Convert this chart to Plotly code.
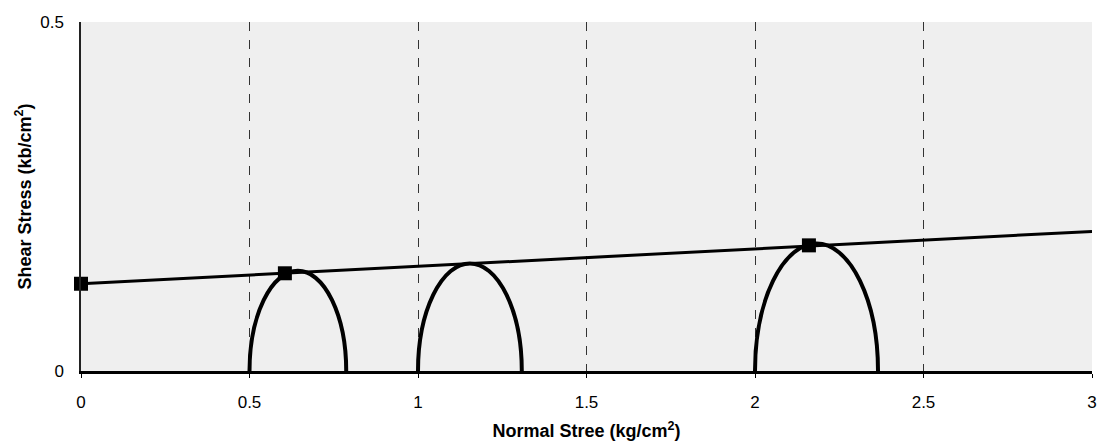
import plotly.graph_objects as go

# Failure-envelope points (squares)
env_x = [0.0, 0.605, 2.16]
env_y = [0.125, 0.140, 0.180]
# Envelope line end points
line_x = [0.0, 3.0]
line_y = [0.125, 0.200]
# Mohr half-circles: left and right intersections with the normal-stress axis
circle_left = [0.5, 1.0, 2.0]
circle_right = [0.787, 1.308, 2.365]

x_ticks = [0, 0.5, 1, 1.5, 2, 2.5, 3]
x_tick_text = ["0", "0.5", "1", "1.5", "2", "2.5", "3"]
y_ticks = [0, 0.5]
y_tick_text = ["0", "0.5"]

fig = go.Figure()

shapes = []
for a, b in zip(circle_left, circle_right):
    r = (b - a) / 2
    shapes.append(dict(type="circle", xref="x", yref="y", x0=a, x1=b, y0=-r, y1=r,
                       line=dict(color="black", width=4), layer="above"))

fig.add_trace(go.Scatter(x=line_x, y=line_y, mode="lines",
                         line=dict(color="black", width=3), showlegend=False,
                         cliponaxis=False))
fig.add_trace(go.Scatter(x=env_x, y=env_y, mode="markers",
                         marker=dict(symbol="square", size=14, color="black"),
                         showlegend=False, cliponaxis=False))

font = "Liberation Sans, Arial, sans-serif"
fig.update_layout(
    width=1099, height=443,
    margin=dict(l=81, r=7, t=22, b=72),
    paper_bgcolor="white",
    plot_bgcolor="#efefef",
    shapes=shapes,
    font=dict(family=font, color="black", size=17),
    xaxis=dict(range=[0, 3], tickvals=x_ticks, ticktext=x_tick_text,
               tickfont=dict(size=17, family=font, color="black"),
               showgrid=True, gridcolor="#333", griddash="dash", gridwidth=1,
               showline=True, linecolor="black", linewidth=2.5,
               ticks="outside", ticklen=4, tickcolor="black",
               ticklabelstandoff=10, zeroline=False, automargin=False,
               title=dict(text="<b>Normal Stree (kg/cm<sup>2</sup>)</b>",
                          font=dict(size=18, family=font, color="black"), standoff=14)),
    yaxis=dict(range=[0, 0.5], tickvals=y_ticks, ticktext=y_tick_text,
               tickfont=dict(size=17, family=font, color="black"),
               showgrid=True, gridcolor="#333", griddash="dot", gridwidth=1,
               showline=True, linecolor="#222", linewidth=1.5,
               ticks="", ticklabelstandoff=12, zeroline=False, automargin=False,
               title=dict(text="<b>Shear Stress (kb/cm<sup>2</sup>)</b>",
                          font=dict(size=18, family=font, color="black"), standoff=4)),
)

fig.write_html("out.html")
